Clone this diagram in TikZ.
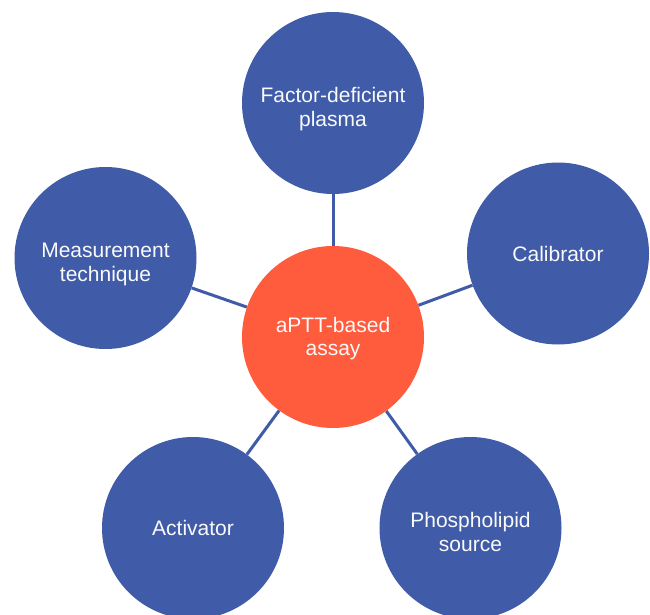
\documentclass[tikz,border=0pt]{standalone}
\usepackage{fontspec}
\setmainfont{Liberation Sans}
\usepackage{tikz}
\usetikzlibrary{shapes.geometric}

\definecolor{factorblue}{HTML}{405CA8}
\definecolor{assayred}{HTML}{FF5B3D}

\begin{document}
\begin{tikzpicture}[x=1pt, y=-1pt,
  factor/.style={circle, fill=factorblue, minimum size=182pt, inner sep=0pt,
    text=white!96!gray, align=center, font=\fontsize{21}{24}\selectfont},
  twolines/.style={text height=#1, text depth=0pt},
  twolines/.default=47.4pt,
  assay/.style={factor, fill=assayred, font=\fontsize{21}{23}\selectfont},
  link/.style={draw=factorblue, line width=3pt}]
\useasboundingbox (0, 0) rectangle (650, 615);
%%% The centre node: the assay itself
\node[assay, twolines=36.6pt] (assay) at (333, 337) {aPTT-based\\assay};
%%% The nodes represent the factors around the assay
\node[factor, twolines] (plasma) at (333, 103) {Factor-deficient\\plasma};
\node[factor] (calib) at (558, 253.5) {Calibrator};
\node[factor, twolines] (phospho) at (470.5, 528) {Phospholipid\\source};
\node[factor] (activ) at (193, 528) {Activator};
\node[factor, twolines] (measure) at (105.5, 258) {Measurement\\technique};
%%%%%% The edges link every factor to the assay
\draw[link] (assay) -- (plasma);
\draw[link] (assay) -- (calib);
\draw[link] (assay) -- (phospho);
\draw[link] (assay) -- (activ);
\draw[link] (assay) -- (measure);
\end{tikzpicture}
\end{document}
